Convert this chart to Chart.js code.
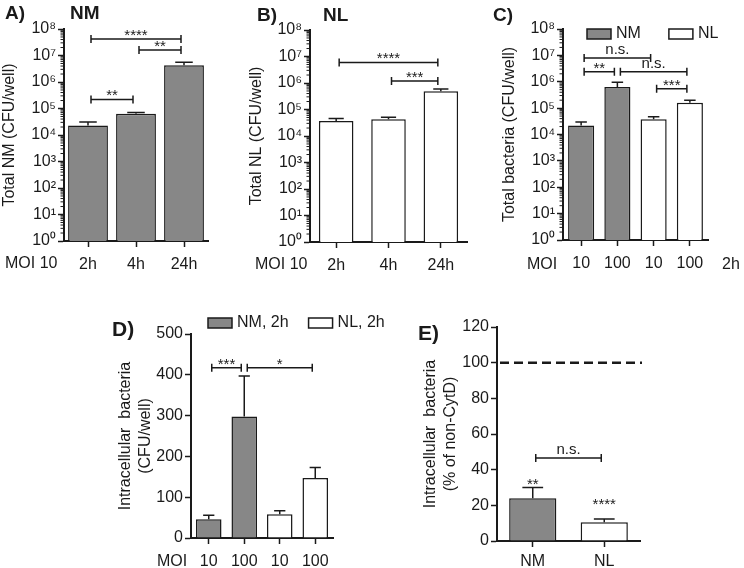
<!DOCTYPE html>
<html>
<head>
<meta charset="utf-8">
<script src="https://cdn.jsdelivr.net/npm/chart.js@4/dist/chart.umd.min.js"></script>
<style>
  body { margin: 0; width: 744px; height: 568px; background: #fff; position: relative; overflow: hidden;
         font-family: 'Liberation Sans', Arial, sans-serif; color: #1a1a1a; }
  canvas { position: absolute; }
  .lbl { position: absolute; white-space: nowrap; line-height: 1; }
  .big { font-size: 19px; font-weight: bold; }
  .big2 { font-size: 21px; font-weight: bold; }
  .moi { font-size: 16px; }
</style>
</head>
<body>
<canvas id="chartA" width="240" height="275" style="left:0;top:0"></canvas>
<canvas id="chartB" width="240" height="275" style="left:240px;top:0"></canvas>
<canvas id="chartC" width="264" height="275" style="left:480px;top:0"></canvas>
<canvas id="chartD" width="280" height="278" style="left:110px;top:290px"></canvas>
<canvas id="chartE" width="344" height="278" style="left:400px;top:290px"></canvas>

<div class="lbl big" style="left:5px;top:3px">A)</div>
<div class="lbl big" style="left:70px;top:3px">NM</div>
<div class="lbl big" style="left:257px;top:5px">B)</div>
<div class="lbl big" style="left:323px;top:5px">NL</div>
<div class="lbl big" style="left:493px;top:5px">C)</div>
<div class="lbl big2" style="left:112px;top:318px">D)</div>
<div class="lbl big2" style="left:418px;top:322px">E)</div>
<div class="lbl moi" style="left:5px;top:255px">MOI 10</div>
<div class="lbl moi" style="left:255px;top:256px">MOI 10</div>
<div class="lbl moi" style="left:527px;top:256px">MOI</div>
<div class="lbl moi" style="left:722px;top:256px">2h</div>
<div class="lbl moi" style="left:157px;top:553px">MOI</div>

<script>
  const FONT = "'Liberation Sans', Arial, sans-serif";
  const ink = '#1a1a1a';
  const gray = '#878787';
  Chart.defaults.font.family = FONT;
  Chart.defaults.color = ink;

  // ---- data ----
  const timeCats = ['2h', '4h', '24h'];
  const nmTotal = [2.3e4, 6.3e4, 4.3e6];
  const nmTotalErr = [3.1e4, 7.0e4, 5.6e6];
  const nlTotal = [3.7e4, 4.3e4, 4.9e5];
  const nlTotalErr = [4.6e4, 5.1e4, 5.9e5];

  const moiCats = ['10', '100', '10', '100'];
  const nmByMoi = [2.2e4, 6.3e5, null, null];
  const nmByMoiErr = [3.0e4, 9.5e5, null, null];
  const nlByMoi = [null, null, 3.8e4, 1.6e5];
  const nlByMoiErr = [null, null, 4.7e4, 2.0e5];

  const nmIntra = [46, 298, null, null];
  const nmIntraErr = [56, 397, null, null];
  const nlIntra = [null, null, 58, 147];
  const nlIntraErr = [null, null, 67, 173];

  const cytdCats = ['NM', 'NL'];
  const cytdPct = [24, 10.5];
  const cytdPctErr = [30, 12.3];
  const cytdStars = ['**', '****'];
  const cytdStarAt = [34, 23];
  const cytdRef = 100;

  const logTicks = [1, 10, 100, 1e3, 1e4, 1e5, 1e6, 1e7, 1e8];
  const logTickLabels = ['10⁰', '10¹', '10²', '10³', '10⁴', '10⁵', '10⁶', '10⁷', '10⁸'];
  const cfuTicks = [0, 100, 200, 300, 400, 500];
  const pctTicks = [0, 20, 40, 60, 80, 100, 120];

  // significance brackets: [from, to, height, label]
  const sigA = [[0, 1, 2.2e5, '**'], [0, 2, 4.2e7, '****'], [1, 2, 1.6e7, '**']];
  const sigB = [[0, 2, 6e6, '****'], [1, 2, 1.2e6, '***']];
  const sigC = [[0, 2, 8e6, 'n.s.'], [0, 1, 2.4e6, '**'], [1, 3, 2.4e6, 'n.s.'], [2, 3, 5.4e5, '***']];
  const sigD = [[0, 1, 417, '***'], [1, 3, 417, '*']];
  const sigE = [[0, 1, 46.5, 'n.s.']];

  // draws error whiskers, brackets, minor log ticks, legend and reference line
  const overlay = {
    id: 'overlay',
    afterDatasetsDraw(chart, args, opts) {
      const ctx = chart.ctx, x = chart.scales.x, y = chart.scales.y, area = chart.chartArea;
      ctx.save();
      ctx.strokeStyle = ink;
      ctx.fillStyle = ink;
      ctx.lineWidth = 1.5;

      chart.data.datasets.forEach((ds, di) => {
        const meta = chart.getDatasetMeta(di);
        (ds.errors || []).forEach((e, i) => {
          if (e == null || ds.data[i] == null) return;
          const bar = meta.data[i];
          const top = y.getPixelForValue(e);
          const cap = bar.width * 0.22;
          ctx.beginPath();
          ctx.moveTo(bar.x, bar.y);
          ctx.lineTo(bar.x, top);
          ctx.moveTo(bar.x - cap, top);
          ctx.lineTo(bar.x + cap, top);
          ctx.stroke();
        });
      });

      ctx.font = '15px ' + FONT;
      ctx.textAlign = 'center';
      ctx.textBaseline = 'alphabetic';
      (opts.brackets || []).forEach(([a, b, v, text]) => {
        const x0 = x.getPixelForValue(a) + 3, x1 = x.getPixelForValue(b) - 3;
        const py = y.getPixelForValue(v);
        ctx.beginPath();
        ctx.moveTo(x0, py); ctx.lineTo(x1, py);
        ctx.moveTo(x0, py - 4); ctx.lineTo(x0, py + 4);
        ctx.moveTo(x1, py - 4); ctx.lineTo(x1, py + 4);
        ctx.stroke();
        ctx.fillText(text, (x0 + x1) / 2, text.includes('*') ? py + 1 : py - 4);
      });

      if (opts.stars) {
        opts.stars.text.forEach((t, i) => {
          ctx.fillText(t, x.getPixelForValue(i), y.getPixelForValue(opts.stars.at[i]) + 9);
        });
      }

      if (opts.refLine != null) {
        const py = y.getPixelForValue(opts.refLine);
        ctx.save();
        ctx.lineWidth = 2.5;
        ctx.setLineDash([9, 5]);
        ctx.beginPath();
        ctx.moveTo(area.left + 3, py);
        ctx.lineTo(area.right + 2, py);
        ctx.stroke();
        ctx.restore();
      }

      if (y.type === 'logarithmic') {
        ctx.lineWidth = 1;
        for (let k = 0; k < 8; k++) {
          for (let m = 2; m < 10; m++) {
            const py = y.getPixelForValue(m * Math.pow(10, k));
            ctx.beginPath();
            ctx.moveTo(area.left - 3.5, py);
            ctx.lineTo(area.left, py);
            ctx.stroke();
          }
        }
      }

      if (opts.legend) {
        let lx = area.left + opts.legend.dx;
        const ly = area.top + opts.legend.dy;
        ctx.font = '16px ' + FONT;
        ctx.textAlign = 'left';
        ctx.textBaseline = 'middle';
        ctx.lineWidth = 1.5;
        chart.data.datasets.forEach(ds => {
          ctx.fillStyle = ds.backgroundColor;
          ctx.fillRect(lx, ly, 24, 10);
          ctx.strokeRect(lx, ly, 24, 10);
          ctx.fillStyle = ink;
          ctx.fillText(ds.label, lx + 29, ly + 5);
          lx += 29 + ctx.measureText(ds.label).width + opts.legend.gap;
        });
      }
      ctx.restore();
    }
  };
  Chart.register(overlay);

  function logY(title, w, titlePad) {
    return {
      type: 'logarithmic', min: 1, max: 1e8,
      afterBuildTicks: s => { s.ticks = logTicks.map(v => ({ value: v })); },
      afterFit: s => { s.width = w; },
      ticks: { autoSkip: false, padding: 2, font: { size: 16 }, callback: (v, i) => logTickLabels[i] },
      grid: { drawOnChartArea: false, tickLength: 6, tickColor: ink, tickWidth: 1.5 },
      border: { color: ink, width: 2 },
      title: { display: true, text: title, font: { size: 16 }, padding: { top: titlePad, bottom: 0 } }
    };
  }

  function linY(title, w, titlePad, ticks) {
    return {
      type: 'linear', min: ticks[0], max: ticks[ticks.length - 1],
      afterBuildTicks: s => { s.ticks = ticks.map(v => ({ value: v })); },
      afterFit: s => { s.width = w; },
      ticks: { autoSkip: false, padding: 2, font: { size: 16 } },
      grid: { drawOnChartArea: false, tickLength: 6, tickColor: ink, tickWidth: 1.5 },
      border: { color: ink, width: 2 },
      title: { display: true, text: title, font: { size: 16, lineHeight: 1.25 }, padding: { top: titlePad, bottom: 0 } }
    };
  }

  function catX(h, pad) {
    return {
      type: 'category',
      afterFit: s => { s.height = h; },
      ticks: { font: { size: 16 }, padding: pad, autoSkip: false, maxRotation: 0 },
      grid: { drawOnChartArea: false, offset: false, tickLength: 6, tickColor: ink, tickWidth: 1.5 },
      border: { color: ink, width: 2 }
    };
  }

  function baseOptions(padding, scales, overlayOpts) {
    return {
      responsive: false,
      animation: false,
      layout: { padding: padding },
      scales: scales,
      plugins: { legend: { display: false }, tooltip: { enabled: false }, overlay: overlayOpts }
    };
  }

  function barSet(label, data, errors, color, pct) {
    return {
      label: label, data: data, errors: errors,
      backgroundColor: color, borderColor: ink, borderWidth: 1.5,
      barPercentage: pct, categoryPercentage: 1, grouped: false
    };
  }

  new Chart(document.getElementById('chartA'), {
    type: 'bar',
    data: { labels: timeCats, datasets: [barSet('NM', nmTotal, nmTotalErr, gray, 0.83)] },
    options: baseOptions({ top: 29, right: 32, left: 0, bottom: 0 },
      { x: catX(34, 8), y: logY('Total NM (CFU/well)', 64, 0) },
      { brackets: sigA })
  });

  new Chart(document.getElementById('chartB'), {
    type: 'bar',
    data: { labels: timeCats, datasets: [barSet('NL', nlTotal, nlTotalErr, '#ffffff', 0.66)] },
    options: baseOptions({ top: 30, right: 13, left: 0, bottom: 0 },
      { x: catX(33, 8), y: logY('Total NL (CFU/well)', 70, 7) },
      { brackets: sigB })
  });

  new Chart(document.getElementById('chartC'), {
    type: 'bar',
    data: {
      labels: moiCats,
      datasets: [
        barSet('NM', nmByMoi, nmByMoiErr, gray, 0.72),
        barSet('NL', nlByMoi, nlByMoiErr, '#ffffff', 0.72)
      ]
    },
    options: baseOptions({ top: 29, right: 36, left: 0, bottom: 0 },
      { x: catX(35, 8), y: logY('Total bacteria (CFU/well)', 83, 20) },
      { brackets: sigC, legend: { dx: 24, dy: 0, gap: 28 } })
  });

  new Chart(document.getElementById('chartD'), {
    type: 'bar',
    data: {
      labels: moiCats,
      datasets: [
        barSet('NM, 2h', nmIntra, nmIntraErr, gray, 0.72),
        barSet('NL, 2h', nlIntra, nlIntraErr, '#ffffff', 0.72)
      ]
    },
    options: baseOptions({ top: 44, right: 57, left: 0, bottom: 0 },
      { x: catX(30, 8), y: linY(['Intracellular  bacteria', '(CFU/well)'], 81, 6, cfuTicks) },
      { brackets: sigD, legend: { dx: 17, dy: -16, gap: 20 } })
  });

  new Chart(document.getElementById('chartE'), {
    type: 'bar',
    data: {
      labels: cytdCats,
      datasets: [{
        label: '% of non-CytD', data: cytdPct, errors: cytdPctErr,
        backgroundColor: [gray, '#ffffff'], borderColor: ink, borderWidth: 1.5,
        barPercentage: 0.66, categoryPercentage: 1
      }]
    },
    options: baseOptions({ top: 37, right: 104, left: 0, bottom: 0 },
      { x: catX(27, 5), y: linY(['Intracellular  bacteria', '(% of non-CytD)'], 97, 21, pctTicks) },
      { brackets: sigE, refLine: cytdRef, stars: { text: cytdStars, at: cytdStarAt } })
  });
</script>
</body>
</html>
